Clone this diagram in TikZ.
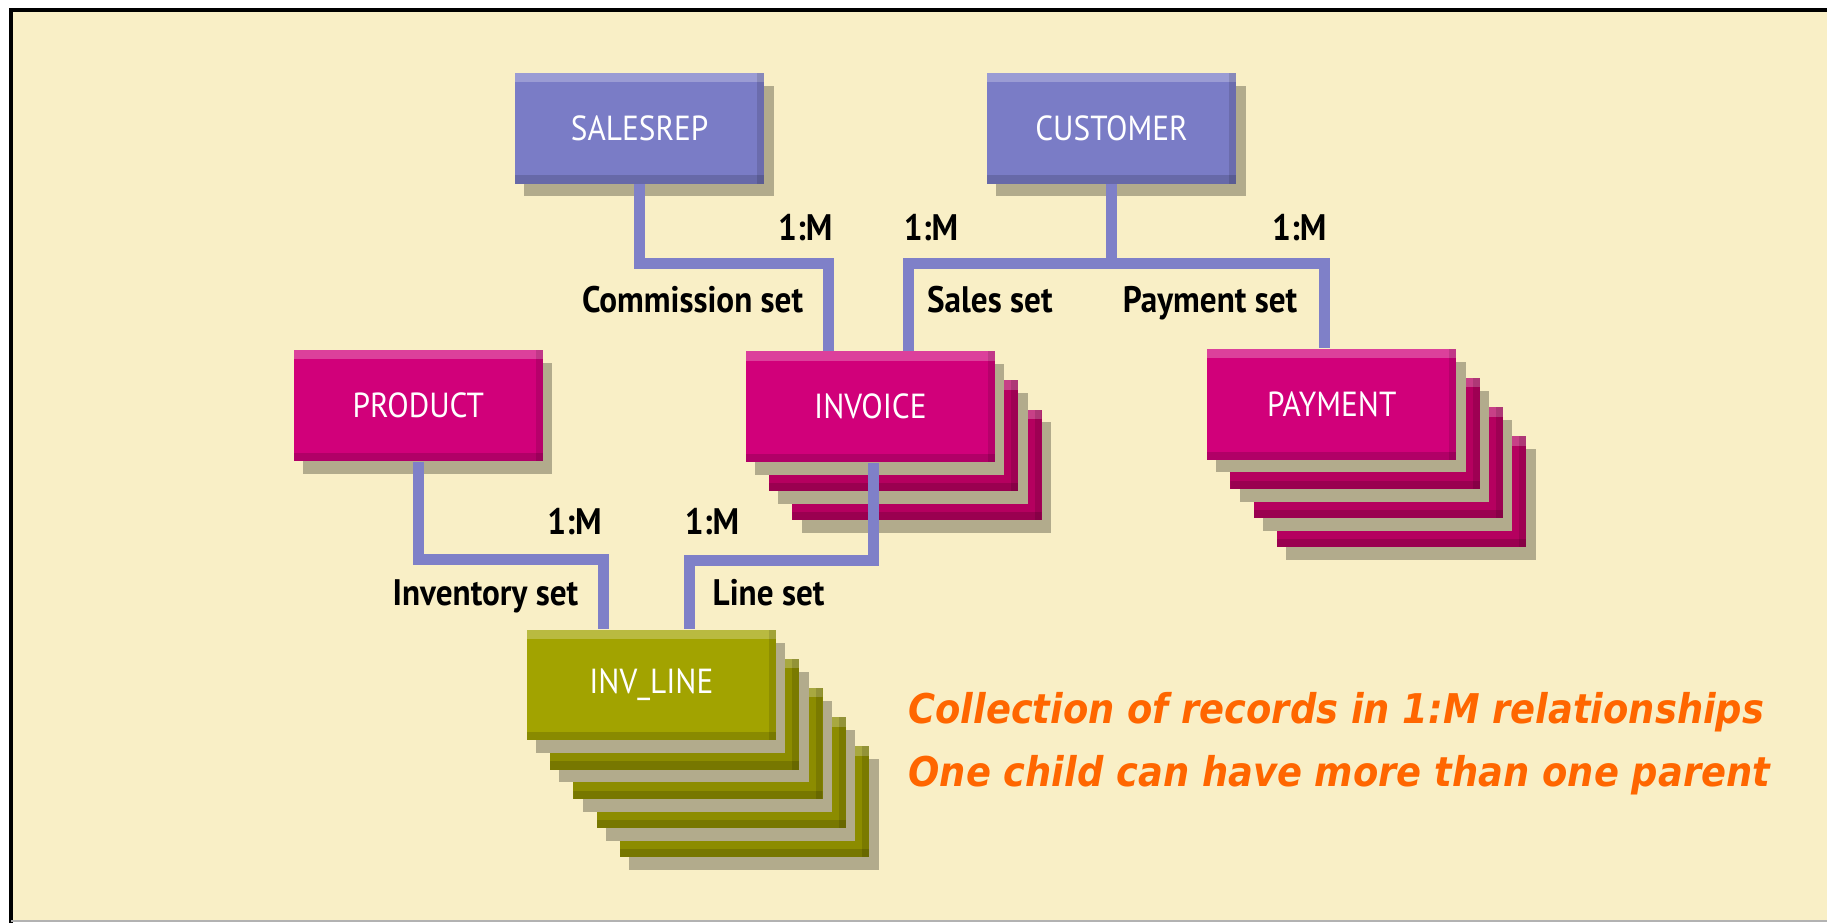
\documentclass[tikz,border=0pt]{standalone}
\usepackage{fontspec}
\setmainfont{PT Sans}[FakeStretch=0.9]
\newfontfamily\notefont{DejaVu Sans Condensed}
\usetikzlibrary{calc}
\usetikzlibrary{shadows}
\definecolor{paper}{HTML}{F9EFC6}
\definecolor{owner}{HTML}{7A7CC6}
\definecolor{member}{HTML}{D1007A}
\definecolor{memberback}{HTML}{B5005F}
\definecolor{olive}{HTML}{A2A300}
\definecolor{oliveback}{HTML}{8C8C00}
\definecolor{setline}{HTML}{7F80C8}
\definecolor{shade}{HTML}{B2AB8C}
\definecolor{note}{HTML}{FF6600}
\newcommand{\backcards}[4] % centre x, centre y, cards behind, colour
{
	% cards behind the front record, last one first
	\foreach \k in {#3,...,1}
		\fill[#4, card] (#1+\k*20-107, #2+\k*25-47.5) rectangle ++(214,95);
}

\begin{document}
\begin{tikzpicture}[x=0.1mm, y=-0.1mm,
	card/.style={drop shadow={shadow xshift=0.8mm, shadow yshift=-1.1mm, fill=shade, opacity=1},
		path picture={
			\fill[white, opacity=0.25] (path picture bounding box.north west) rectangle ([yshift=-0.8mm]path picture bounding box.north east);
			\fill[black, opacity=0.15] ([yshift=0.7mm]path picture bounding box.south west) rectangle (path picture bounding box.south east);
			\fill[black, opacity=0.12] ([xshift=-0.6mm]path picture bounding box.north east) rectangle (path picture bounding box.south east);
		}},
	record/.style={card, minimum width=21.4mm, minimum height=9.5mm, inner sep=0pt, text=white, font=\fontsize{8.5}{10}\selectfont},
	ownerbox/.style={record, fill=owner},
	memberbox/.style={record, fill=member},
	linebox/.style={record, fill=olive},
	link/.style={setline, line width=0.95mm},
	setlabel/.style={inner sep=0pt, font=\bfseries\fontsize{9}{11}\selectfont},
	notes/.style={inner sep=0pt, text=note, font=\notefont\bfseries\itshape\fontsize{10}{12}\selectfont}]
	\useasboundingbox (0,0) rectangle (1568,792);
	% frame
	\fill[white] (0,0) rectangle (1568,792);
	\fill[paper] (9,8) rectangle (1568,790);
	\draw[line width=0.4mm] (9.5,792) -- (9.5,8.5) -- (1568,8.5);
	\draw[black!30, line width=0.2mm] (9.5,790.5) -- (1568,790.5);
	% owners
	\node[ownerbox] (salesrep) at (549,110) {SALESREP};
	\node[ownerbox] (customer) at (954,110) {CUSTOMER};
	\node[memberbox] (product) at (359,348) {PRODUCT};
	% members with their stacks
	\backcards{747}{349}{2}{memberback}
	\node[memberbox] (invoice) at (747,349) {INVOICE};
	\backcards{1143}{347}{3}{memberback}
	\node[memberbox] (payment) at (1143,347) {PAYMENT};
	\backcards{559}{588}{4}{oliveback}
	\node[linebox] (invline) at (559,588) {INV\_LINE};
	% sets
	\draw[link] (salesrep.south) -- ++(0,68) -| ($(invoice.north)+(-36,0)$);
	\draw[link] (customer.south) -- ++(0,68) coordinate (salesbus) -| ($(invoice.north)+(33,0)$);
	\draw[link] (salesbus) -| ($(payment.north)+(-6,0)$);
	\draw[link] (product.south) -- ++(0,84) -| ($(invline.north)+(-41,0)$);
	\draw[link] ($(invoice.south)+(3,0)$) -- ++(0,84) -| ($(invline.north)+(33,0)$);
	% set names
	\node[setlabel, anchor=base east] (commone) at (715,206) {1:M};
	\node[setlabel, anchor=base east] (commission) at (690,268) {Commission set};
	\node[setlabel, anchor=base west] (salesone) at (775,206) {1:M};
	\node[setlabel, anchor=base west] (sales) at (795,268) {Sales set};
	\node[setlabel, anchor=base east] (paymentone) at (1139,206) {1:M};
	\node[setlabel, anchor=base east] (paymentset) at (1114,268) {Payment set};
	\node[setlabel, anchor=base east] (inventoryone) at (517,459) {1:M};
	\node[setlabel, anchor=base east] (inventory) at (497,520) {Inventory set};
	\node[setlabel, anchor=base west] (lineone) at (587,459) {1:M};
	\node[setlabel, anchor=base west] (lineset) at (611,520) {Line set};
	% note
	\node[notes, anchor=base west] (noteone) at (779,621) {Collection of records in 1:M relationships};
	\node[notes, anchor=base west] (notetwo) at (779,675) {One child can have more than one parent};
\end{tikzpicture}
\end{document}
